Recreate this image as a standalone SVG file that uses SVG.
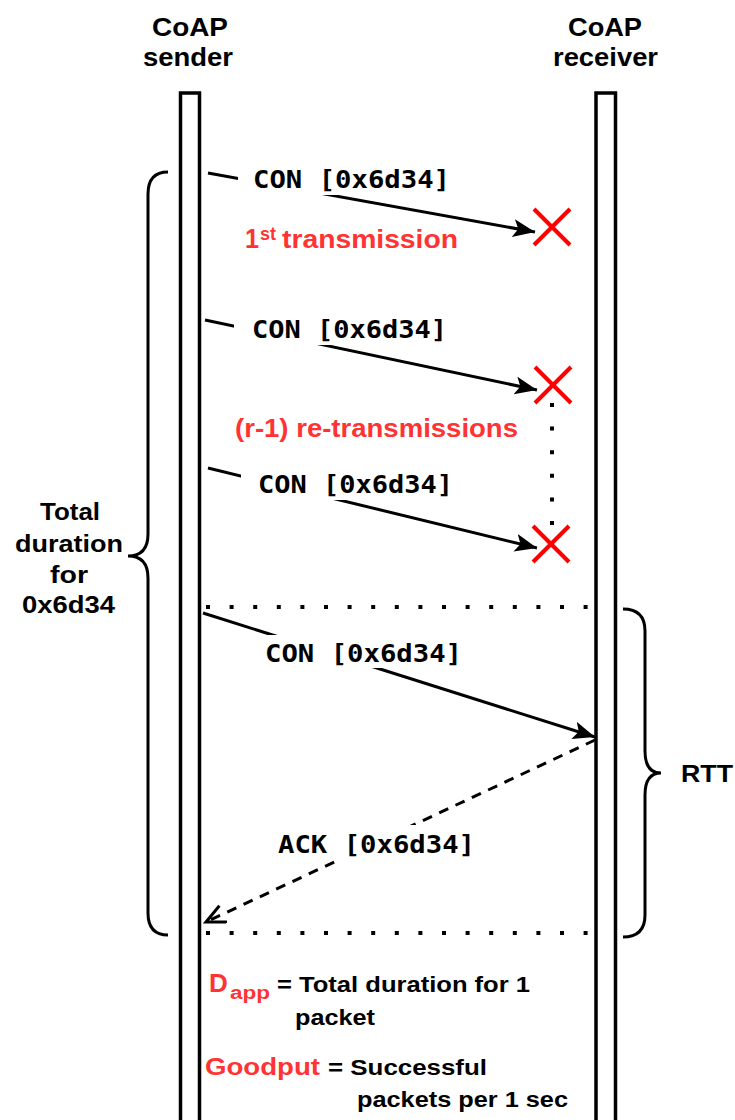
<svg xmlns="http://www.w3.org/2000/svg" width="735" height="1120" viewBox="0 0 735 1120">
<style>
.ll{fill:#fff;stroke:#000;stroke-width:3.5}
.hd{font-family:"Liberation Sans",Arial,sans-serif;font-weight:bold;font-size:26px;fill:#000}
.lb{font-family:"Liberation Sans",Arial,sans-serif;font-weight:bold;font-size:24px;fill:#000}
.red{fill:#ff3333}
.mono{font-family:"DejaVu Sans Mono","Liberation Mono",monospace;font-weight:bold;font-size:24px;fill:#000}
.msg{stroke:#000;stroke-width:3;fill:none}
.dot{stroke:#000;stroke-width:4;stroke-dasharray:4 19.6;fill:none}
.x{stroke:#ff0000;stroke-width:4}
.br{stroke:#000;stroke-width:3;fill:none}
.bg{fill:#fff}
</style>
<defs>
<marker id="ah" markerUnits="userSpaceOnUse" markerWidth="24" markerHeight="20" refX="22" refY="9" orient="auto">
<path d="M0,0 L22,9 L0,18 L5,9 Z" fill="#000"/>
</marker>
<marker id="oa" markerUnits="userSpaceOnUse" markerWidth="24" markerHeight="22" refX="21" refY="10" orient="auto">
<path d="M2,1 L21,10 L2,19" fill="none" stroke="#000" stroke-width="3"/>
</marker>
</defs>

<g id="sender">
<rect class="ll" x="180.5" y="93" width="19" height="1040"/>
<text class="hd" x="190" y="36" text-anchor="middle" textLength="76" lengthAdjust="spacingAndGlyphs">CoAP</text>
<text class="hd" x="188" y="66" text-anchor="middle" textLength="90" lengthAdjust="spacingAndGlyphs">sender</text>
</g>
<g id="receiver">
<rect class="ll" x="596" y="93" width="19.5" height="1040"/>
<text class="hd" x="605" y="36" text-anchor="middle" textLength="74" lengthAdjust="spacingAndGlyphs">CoAP</text>
<text class="hd" x="605.5" y="66" text-anchor="middle" textLength="105" lengthAdjust="spacingAndGlyphs">receiver</text>
</g>

<g id="connectors">
<line class="msg" x1="208" y1="173" x2="535" y2="232" marker-end="url(#ah)"/>
<line class="msg" x1="205" y1="320" x2="537" y2="390" marker-end="url(#ah)"/>
<line class="msg" x1="208" y1="468" x2="537" y2="548" marker-end="url(#ah)"/>
<line class="msg" x1="203" y1="613" x2="595" y2="737" marker-end="url(#ah)"/>
<line class="msg" x1="595" y1="740" x2="206" y2="922" stroke-dasharray="10 8" marker-end="url(#oa)"/>
<line class="dot" x1="206" y1="607" x2="594" y2="607"/>
<line class="dot" x1="206" y1="933" x2="594" y2="933"/>
<line class="dot" x1="552" y1="403" x2="552" y2="528"/>
</g>

<g id="msg1">
<rect class="bg" x="238" y="166" width="220" height="29"/>
<text class="mono" x="253" y="188" textLength="197" lengthAdjust="spacingAndGlyphs">CON [0x6d34]</text>
</g>
<g id="msg2">
<rect class="bg" x="234" y="316" width="220" height="29"/>
<text class="mono" x="252" y="338" textLength="195" lengthAdjust="spacingAndGlyphs">CON [0x6d34]</text>
</g>
<g id="msg3">
<rect class="bg" x="241" y="471" width="220" height="29"/>
<text class="mono" x="258" y="493" textLength="195" lengthAdjust="spacingAndGlyphs">CON [0x6d34]</text>
</g>
<g id="msg4">
<rect class="bg" x="250" y="635" width="222" height="33"/>
<text class="mono" x="265" y="662" textLength="197" lengthAdjust="spacingAndGlyphs">CON [0x6d34]</text>
</g>
<g id="ack">
<rect class="bg" x="268" y="825" width="220" height="35"/>
<text class="mono" x="278" y="853" textLength="197" lengthAdjust="spacingAndGlyphs">ACK [0x6d34]</text>
</g>

<g id="loss1">
<line class="x" x1="534" y1="209" x2="570" y2="245"/>
<line class="x" x1="570" y1="209" x2="534" y2="245"/>
</g>
<g id="loss2">
<line class="x" x1="535" y1="367" x2="571" y2="403"/>
<line class="x" x1="571" y1="367" x2="535" y2="403"/>
</g>
<g id="loss3">
<line class="x" x1="533" y1="526" x2="569" y2="562"/>
<line class="x" x1="569" y1="526" x2="533" y2="562"/>
</g>

<g id="first-tx">
<text class="lb red" x="245" y="248" style="font-size:27px" textLength="14" lengthAdjust="spacingAndGlyphs">1</text>
<text class="lb red" x="260" y="240" style="font-size:18px">st</text>
<text class="lb red" x="282" y="248" style="font-size:26px" textLength="176" lengthAdjust="spacingAndGlyphs">transmission</text>
</g>
<g id="retx">
<text class="lb red" x="235" y="437" style="font-size:26px" textLength="283" lengthAdjust="spacingAndGlyphs">(r-1) re-transmissions</text>
</g>

<g id="total-brace">
<path class="br" d="M168,172 Q148,172 148,194 L148,534 Q148,556 128,556 Q148,556 148,578 L148,913 Q148,935 168,935"/>
<text class="lb" x="70" y="520" text-anchor="middle" textLength="60" lengthAdjust="spacingAndGlyphs">Total</text>
<text class="lb" x="69" y="552" text-anchor="middle" textLength="108" lengthAdjust="spacingAndGlyphs">duration</text>
<text class="lb" x="69" y="583" text-anchor="middle" textLength="38" lengthAdjust="spacingAndGlyphs">for</text>
<text class="lb" x="68.5" y="613" text-anchor="middle" textLength="93" lengthAdjust="spacingAndGlyphs">0x6d34</text>
</g>

<g id="rtt-brace">
<path class="br" d="M623,609 Q645,609 645,631 L645,751 Q645,773 661,773 Q645,773 645,795 L645,915 Q645,937 623,937"/>
<text class="lb" x="681" y="782" textLength="52" lengthAdjust="spacingAndGlyphs">RTT</text>
</g>

<g id="legend">
<text class="lb red" x="209" y="992" style="font-size:26px">D</text>
<text class="lb red" x="230" y="999" style="font-size:18px" textLength="40" lengthAdjust="spacingAndGlyphs">app</text>
<text class="lb" x="277" y="992" style="font-size:22px" textLength="253" lengthAdjust="spacingAndGlyphs">= Total duration for 1</text>
<text class="lb" x="295" y="1025" style="font-size:22px" textLength="80" lengthAdjust="spacingAndGlyphs">packet</text>
<text class="lb red" x="205" y="1075" textLength="115" lengthAdjust="spacingAndGlyphs">Goodput</text>
<text class="lb" x="328" y="1075" style="font-size:22px" textLength="159" lengthAdjust="spacingAndGlyphs">= Successful</text>
<text class="lb" x="357" y="1107" style="font-size:22px" textLength="211" lengthAdjust="spacingAndGlyphs">packets per 1 sec</text>
</g>
</svg>
